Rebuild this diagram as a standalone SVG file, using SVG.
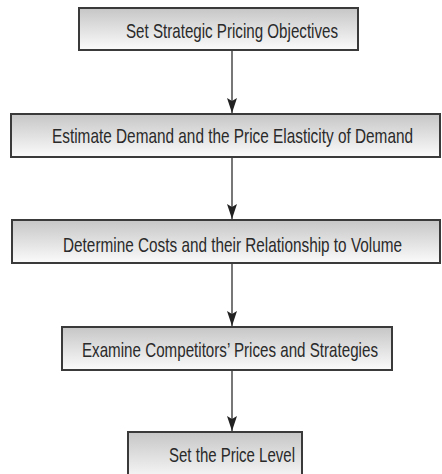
<svg xmlns="http://www.w3.org/2000/svg" width="442" height="474" viewBox="0 0 442 474">
<style>
.box{fill:url(#g);stroke:#3a3a3a;stroke-width:2}
.t{font-family:"Liberation Sans",Arial,sans-serif;font-size:15.5px;fill:#2a2a2a;text-anchor:middle}
.c{stroke:#555;stroke-width:1.6;fill:none;marker-end:url(#a)}
</style>
<defs>
<linearGradient id="g" x1="0" y1="0" x2="0" y2="1">
<stop offset="0" stop-color="#c6c6c6"/>
<stop offset="1" stop-color="#fbfbfb"/>
</linearGradient>
<marker id="a" markerWidth="15" markerHeight="10" refX="15" refY="5" orient="auto" markerUnits="userSpaceOnUse" viewBox="0 0 15 10">
<path d="M0,0 L15,5 L0,10 L3,5 Z" fill="#222"/>
</marker>
</defs>
<g id="connectors">
<line class="c" x1="232" y1="51" x2="232" y2="113"/>
<line class="c" x1="232" y1="158" x2="232" y2="219"/>
<line class="c" x1="232" y1="264" x2="232" y2="326"/>
<line class="c" x1="232" y1="371" x2="232" y2="431"/>
</g>
<g id="n1"><rect class="box" x="79" y="8" width="279" height="42"/><text class="t" transform="translate(232,38) scale(1,1.35)" textLength="212" lengthAdjust="spacingAndGlyphs">Set Strategic Pricing Objectives</text></g>
<g id="n2"><rect class="box" x="11" y="114" width="429" height="43"/><text class="t" transform="translate(232.5,143) scale(1,1.35)" textLength="361" lengthAdjust="spacingAndGlyphs">Estimate Demand and the Price Elasticity of Demand</text></g>
<g id="n3"><rect class="box" x="12" y="220" width="428" height="43"/><text class="t" transform="translate(232.5,252) scale(1,1.35)" textLength="339" lengthAdjust="spacingAndGlyphs">Determine Costs and their Relationship to Volume</text></g>
<g id="n4"><rect class="box" x="62" y="327" width="330" height="43"/><text class="t" transform="translate(230,357) scale(1,1.35)" textLength="296" lengthAdjust="spacingAndGlyphs">Examine Competitors’ Prices and Strategies</text></g>
<g id="n5"><rect class="box" x="128" y="432" width="174" height="50"/><text class="t" transform="translate(232,462) scale(1,1.35)" textLength="126" lengthAdjust="spacingAndGlyphs">Set the Price Level</text></g>
</svg>
